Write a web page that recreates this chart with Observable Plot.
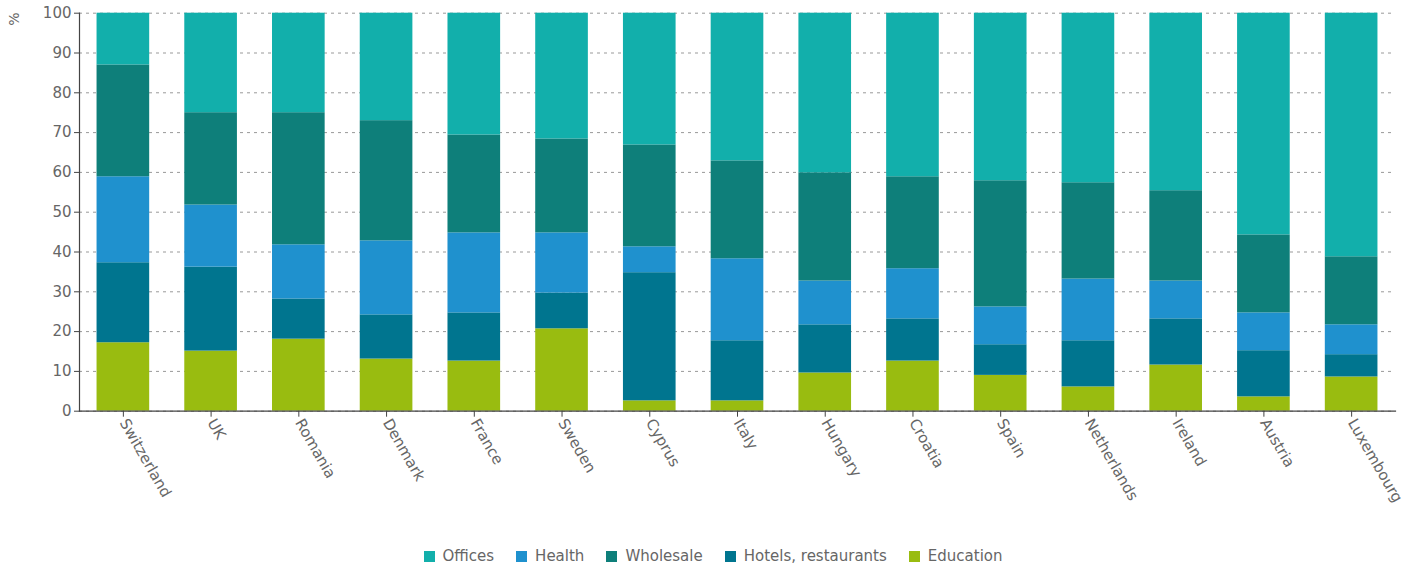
<!DOCTYPE html>
<html>
<head>
<meta charset="utf-8">
<script src="https://cdn.jsdelivr.net/npm/d3@7"></script>
<script src="https://cdn.jsdelivr.net/npm/@observablehq/plot@0.6"></script>
<style>
  html, body { margin: 0; padding: 0; background: #fff; }
  #chart { position: relative; width: 1416px; height: 530px; }
  #chart svg { display: block; }
  .legend { display: flex; justify-content: center; align-items: center; gap: 22px;
    font-family: "DejaVu Sans", Verdana, sans-serif; font-size: 15px; color: #666;
    height: 20px; margin-top: 16px; padding-left: 10px; }
  .legend span.sw { display: inline-block; width: 11px; height: 11px; margin-right: 8px; vertical-align: -1px; }
</style>
</head>
<body>
<div id="chart"></div>
<div class="legend" id="legend"></div>
<script>
const countries = ["Switzerland","UK","Romania","Denmark","France","Sweden","Cyprus","Italy","Hungary","Croatia","Spain","Netherlands","Ireland","Austria","Luxembourg"];
// stack order bottom -> top
const sectors = ["Education","Hotels, restaurants","Health","Wholesale","Offices"];
const education   = [17.2, 15.1, 18.1, 13.1, 12.6, 20.7,  2.6,  2.6,  9.6, 12.6,  9.0,  6.1, 11.6,  3.6,  8.6];
const hotels      = [20.1, 21.1, 10.1, 11.1, 12.1,  9.0, 32.2, 15.1, 12.1, 10.6,  7.7, 11.6, 11.6, 11.6,  5.6];
const health      = [21.6, 15.6, 13.6, 18.6, 20.1, 15.1,  6.5, 20.6, 11.0, 12.6,  9.5, 15.5,  9.5,  9.5,  7.5];
const wholesale   = [28.1, 23.2, 33.2, 30.2, 24.6, 23.6, 25.6, 24.6, 27.2, 23.1, 31.7, 24.2, 22.7, 19.6, 17.1];
const offices     = [13.0, 25.0, 25.0, 27.0, 30.6, 31.6, 33.1, 37.1, 40.1, 41.1, 42.1, 42.6, 44.6, 55.7, 61.2];
const legendOrder = ["Offices","Health","Wholesale","Hotels, restaurants","Education"];
const colorMap = {"Offices":"#12afab","Health":"#1f91ce","Wholesale":"#0e7f7a","Hotels, restaurants":"#00758f","Education":"#99bc10"};
const yTicks = [0,10,20,30,40,50,60,70,80,90,100];

const series = [education, hotels, health, wholesale, offices];
const data = [];
countries.forEach((c, i) => {
  sectors.forEach((s, j) => data.push({country: c, sector: s, value: series[j][i]}));
});

const W = 1416, H = 530;
const chart = Plot.plot({
  width: W, height: H,
  marginTop: 12.7, marginBottom: H - 410.7, marginLeft: 79, marginRight: 21,
  style: {fontFamily: "'DejaVu Sans', Verdana, sans-serif", fontSize: "15px", color: "#666", background: "#fff"},
  x: {domain: countries, paddingInner: 0.4, paddingOuter: 0.2, round: false, label: null},
  y: {domain: [0, 100], label: null},
  color: {domain: sectors, range: sectors.map(s => colorMap[s])},
  marks: [
    Plot.gridY(yTicks, {stroke: "#999", strokeOpacity: 1, strokeDasharray: "3,4"}),
    Plot.barY(data, {x: "country", y: "value", fill: "sector", order: sectors}),
    Plot.frame({anchor: "left", stroke: "#444", strokeWidth: 1.2}),
    Plot.frame({anchor: "bottom", stroke: "#444", strokeWidth: 1.2}),
    Plot.axisY(yTicks, {tickSize: 5, tickPadding: 3, stroke: "#444", label: null, fill: "#666"}),
    Plot.axisX({tickSize: 6, tickPadding: 3, tickRotate: 60, stroke: "#444", label: null, fill: "#666", textAnchor: "start"})
  ]
});
document.getElementById("chart").appendChild(chart);
// rotated "%" unit label
d3.select(chart).append("text")
  .attr("transform", "translate(19,19) rotate(-90)")
  .attr("text-anchor", "middle")
  .attr("font-size", 14)
  .attr("fill", "#666")
  .text("%");

const lg = d3.select("#legend");
legendOrder.forEach(s => {
  const item = lg.append("div");
  item.append("span").attr("class", "sw").style("background", colorMap[s]);
  item.append("span").text(s);
});
</script>
</body>
</html>
